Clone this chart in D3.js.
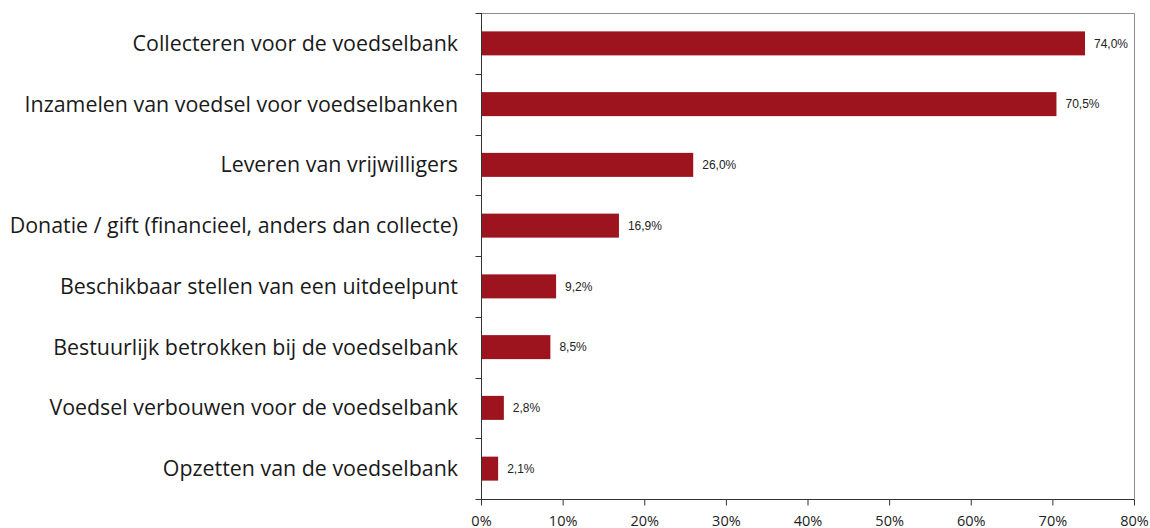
<!DOCTYPE html>
<html>
<head>
<meta charset="utf-8">
<script src="https://cdn.jsdelivr.net/npm/d3@7"></script>
<style>
  body { margin: 0; background: #fff; }
  svg { display: block; }
</style>
</head>
<body>
<div id="chart"></div>
<script>
var categories = [
  "Collecteren voor de voedselbank",
  "Inzamelen van voedsel voor voedselbanken",
  "Leveren van vrijwilligers",
  "Donatie / gift (financieel, anders dan collecte)",
  "Beschikbaar stellen van een uitdeelpunt",
  "Bestuurlijk betrokken bij de voedselbank",
  "Voedsel verbouwen voor de voedselbank",
  "Opzetten van de voedselbank"
];
var values = [74.0, 70.5, 26.0, 16.9, 9.2, 8.5, 2.8, 2.1];
var xTicks = [0, 10, 20, 30, 40, 50, 60, 70, 80];

var width = 1150, height = 528,
    margin = {top: 13, right: 16, bottom: 29, left: 481};

var svg = d3.select("#chart").append("svg")
  .attr("width", width)
  .attr("height", height);

var x = d3.scaleLinear().domain([0, 80]).range([margin.left, width - margin.right]);
var y = d3.scaleBand().domain(categories).range([margin.top, height - margin.bottom]);
var barH = 24;

// plot frame (top and right, grey)
svg.append("path")
  .attr("d", "M" + x(0) + "," + (margin.top + 0.5) + "H" + (x(80) + 0.5) + "V" + (height - margin.bottom))
  .style("fill", "none")
  .style("stroke", "#8c8c8c")
  .style("stroke-width", 1);

// bars
svg.selectAll("rect.bar")
  .data(values)
  .enter()
  .append("rect")
  .attr("class", "bar")
  .attr("x", x(0))
  .attr("y", function(d, i){ return y(categories[i]) + y.bandwidth() / 2 - barH / 2; })
  .attr("width", function(d){ return x(d) - x(0); })
  .attr("height", barH)
  .style("fill", "#9e141e");

// value labels
svg.selectAll("text.val")
  .data(values)
  .enter()
  .append("text")
  .attr("class", "val")
  .attr("x", function(d){ return x(d) + 9; })
  .attr("y", function(d, i){ return y(categories[i]) + y.bandwidth() / 2; })
  .attr("dy", "0.35em")
  .style("font-family", "Arial, 'Liberation Sans', sans-serif")
  .style("font-size", "12px")
  .style("fill", "#222")
  .text(function(d){ return d.toFixed(1).replace(".", ",") + "%"; });

// x axis
var xAxis = d3.axisBottom(x)
  .tickValues(xTicks)
  .tickSize(6)
  .tickFormat(function(d){ return d + "%"; });

var gx = svg.append("g")
  .attr("transform", "translate(0," + (height - margin.bottom + 0.5) + ")")
  .call(xAxis);
gx.select(".domain").attr("stroke", "#333").attr("d", "M" + x(0) + ",0H" + (x(80) + 0.5));
gx.selectAll(".tick line").attr("stroke", "#333");
gx.selectAll(".tick text")
  .attr("y", 26)
  .attr("dy", 0)
  .style("font-family", "'Open Sans', sans-serif")
  .style("font-size", "14.5px")
  .style("fill", "#222");

// y axis: ticks at band boundaries
var gy = svg.append("g").attr("transform", "translate(" + (x(0) + 0.5) + ",0)");
gy.append("line")
  .attr("y1", margin.top)
  .attr("y2", height - margin.bottom)
  .style("stroke", "#333");
var bounds = categories.map(function(c){ return y(c); }).concat([height - margin.bottom]);
gy.selectAll("line.tk")
  .data(bounds)
  .enter()
  .append("line")
  .attr("class", "tk")
  .attr("x1", -6)
  .attr("x2", 0)
  .attr("y1", function(d){ return Math.round(d) + 0.5; })
  .attr("y2", function(d){ return Math.round(d) + 0.5; })
  .style("stroke", "#333");

// category labels
svg.selectAll("text.cat")
  .data(categories)
  .enter()
  .append("text")
  .attr("class", "cat")
  .attr("x", x(0) - 23)
  .attr("y", function(d){ return y(d) + y.bandwidth() / 2; })
  .attr("dy", "0.35em")
  .attr("text-anchor", "end")
  .style("font-family", "'Open Sans', sans-serif")
  .style("font-size", "21.4px")
  .style("fill", "#1a1a1a")
  .text(function(d){ return d; });
</script>
</body>
</html>
